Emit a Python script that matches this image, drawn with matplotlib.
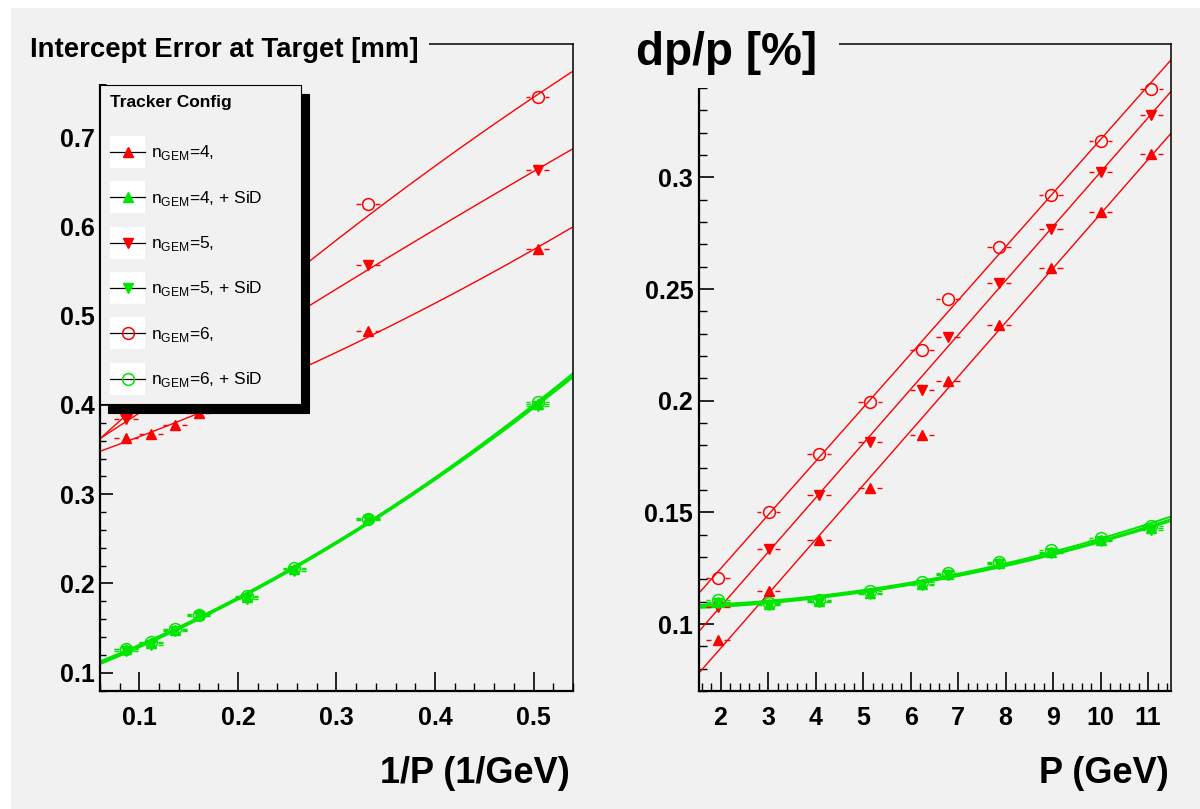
import numpy as np
import matplotlib
matplotlib.use("Agg")
import matplotlib.pyplot as plt
from matplotlib.lines import Line2D
from matplotlib.patches import Rectangle
from matplotlib.legend_handler import HandlerBase
from matplotlib.ticker import FixedLocator, MultipleLocator

plt.rcParams['font.family'] = ['Liberation Sans', 'DejaVu Sans']

# ---- left panel: intercept error vs 1/P ----
inv_p = [0.0864, 0.1117, 0.136, 0.160, 0.2088, 0.2573, 0.332, 0.504]
icpt_n4 = [0.363, 0.368, 0.378, 0.391, 0.410, 0.434, 0.483, 0.575]
icpt_n5 = [0.384, 0.399, 0.416, 0.432, 0.466, 0.498, 0.557, 0.663]
icpt_n6 = [0.392, 0.414, 0.436, 0.457, 0.499, 0.540, 0.625, 0.745]
icpt_n4_sid = [0.126, 0.133, 0.148, 0.166, 0.185, 0.216, 0.273, 0.401]
icpt_n5_sid = [0.124, 0.131, 0.147, 0.164, 0.183, 0.214, 0.271, 0.399]
icpt_n6_sid = [0.127, 0.134, 0.149, 0.165, 0.186, 0.217, 0.272, 0.403]

# ---- right panel: dp/p vs P ----
p_gev = [1.94, 3.01, 4.08, 5.15, 6.24, 6.78, 7.86, 8.95, 10.0, 11.07]
dpp_n4 = [0.0928, 0.1149, 0.1376, 0.1607, 0.1846, 0.2087, 0.2337, 0.2595, 0.2845, 0.3107]
dpp_n5 = [0.1077, 0.1336, 0.1580, 0.1813, 0.2050, 0.2286, 0.2528, 0.2771, 0.3025, 0.3282]
dpp_n6 = [0.1204, 0.1500, 0.1760, 0.1995, 0.2226, 0.2455, 0.2688, 0.2923, 0.3162, 0.3398]
dpp_n4_sid = [0.1100, 0.1090, 0.1103, 0.1140, 0.1180, 0.1224, 0.1272, 0.1324, 0.1376, 0.1428]
dpp_n5_sid = [0.1095, 0.1085, 0.1100, 0.1135, 0.1176, 0.1218, 0.1268, 0.1318, 0.1370, 0.1420]
dpp_n6_sid = [0.1108, 0.1094, 0.1108, 0.1146, 0.1186, 0.1230, 0.1280, 0.1330, 0.1384, 0.1440]

left_xerr = 0.012
right_xerr = 0.25

labels = [r'n$_{\mathregular{GEM}}$=4,', r'n$_{\mathregular{GEM}}$=4, + SiD',
          r'n$_{\mathregular{GEM}}$=5,', r'n$_{\mathregular{GEM}}$=5, + SiD',
          r'n$_{\mathregular{GEM}}$=6,', r'n$_{\mathregular{GEM}}$=6, + SiD']

left_xticks = [0.1, 0.2, 0.3, 0.4, 0.5]
left_yticks = [0.1, 0.2, 0.3, 0.4, 0.5, 0.6, 0.7]
right_xticks = [2, 3, 4, 5, 6, 7, 8, 9, 10, 11]
right_yticks = [0.1, 0.15, 0.2, 0.25, 0.3]

RED = '#ff0000'
GREEN = '#00e600'
PAD = '#f1f1f1'

W, H = 1200, 809
fig = plt.figure(figsize=(12, 8.09), dpi=100, facecolor='white')
# pad background (ROOT canvas look)
fig.add_artist(Rectangle((11 / W, 0), 1, 1 - 8 / H, transform=fig.transFigure,
                         facecolor=PAD, edgecolor='none', zorder=-5))

ax1 = fig.add_axes([100 / W, 1 - 691 / H, 473 / W, (691 - 43.5) / H])
ax2 = fig.add_axes([698.7 / W, 1 - 691 / H, 472.7 / W, (691 - 43.5) / H])


def draw_series(ax, x, y, color, marker, ms, xerr, gap, deg, lw):
    x = np.asarray(x)
    y = np.asarray(y)
    lo, hi = ax.get_xlim()
    xs = np.linspace(lo, hi, 300)
    coef = np.polyfit(x, y, deg)
    ax.plot(xs, np.polyval(coef, xs), color=color, lw=lw, zorder=2)
    # ROOT style x error bars with a gap around the marker
    ax.hlines(y, x - xerr, x - gap, color=color, lw=1.0, zorder=3)
    ax.hlines(y, x + gap, x + xerr, color=color, lw=1.0, zorder=3)
    if marker == 'o':
        ax.plot(x, y, ls='none', marker='o', ms=ms, mfc='none', mec=color, mew=1.1, zorder=4)
    else:
        ax.plot(x, y, ls='none', marker=marker, ms=ms, mfc=color, mec=color, zorder=4)


for ax in (ax1, ax2):
    ax.set_facecolor(PAD)

ax1.set_xlim(0.06, 0.54)
ax1.set_ylim(0.0795, 0.805)
ax2.set_xlim(1.54, 11.49)
ax2.set_ylim(0.070, 0.360)

# left panel
draw_series(ax1, inv_p, icpt_n4, RED, '^', 7.5, left_xerr, 0.0068, 2, 1.0)
draw_series(ax1, inv_p, icpt_n5, RED, 'v', 7.5, left_xerr, 0.0068, 2, 1.0)
draw_series(ax1, inv_p, icpt_n6, RED, 'o', 8.5, left_xerr, 0.0075, 2, 1.0)
draw_series(ax1, inv_p, icpt_n4_sid, GREEN, '^', 7.5, left_xerr, 0.0068, 2, 1.4)
draw_series(ax1, inv_p, icpt_n5_sid, GREEN, 'v', 7.5, left_xerr, 0.0068, 2, 1.4)
draw_series(ax1, inv_p, icpt_n6_sid, GREEN, 'o', 8.5, left_xerr, 0.0075, 2, 1.4)

# right panel
draw_series(ax2, p_gev, dpp_n4, RED, '^', 7.5, right_xerr, 0.14, 1, 1.0)
draw_series(ax2, p_gev, dpp_n5, RED, 'v', 7.5, right_xerr, 0.14, 1, 1.0)
draw_series(ax2, p_gev, dpp_n6, RED, 'o', 8.5, right_xerr, 0.155, 1, 1.0)
draw_series(ax2, p_gev, dpp_n4_sid, GREEN, '^', 7.5, right_xerr, 0.14, 2, 1.4)
draw_series(ax2, p_gev, dpp_n5_sid, GREEN, 'v', 7.5, right_xerr, 0.14, 2, 1.4)
draw_series(ax2, p_gev, dpp_n6_sid, GREEN, 'o', 8.5, right_xerr, 0.155, 2, 1.4)

# axes styling
ax1.xaxis.set_major_locator(FixedLocator(left_xticks))
ax1.yaxis.set_major_locator(FixedLocator(left_yticks))
ax1.xaxis.set_minor_locator(MultipleLocator(0.02))
ax1.yaxis.set_minor_locator(MultipleLocator(0.02))
ax1.set_xticklabels([f'{v:g}' for v in left_xticks])
ax1.set_yticklabels([f'{v:g}' for v in left_yticks])

ax2.xaxis.set_major_locator(FixedLocator(right_xticks))
ax2.yaxis.set_major_locator(FixedLocator(right_yticks))
ax2.xaxis.set_minor_locator(MultipleLocator(0.2))
ax2.yaxis.set_minor_locator(MultipleLocator(0.01))
ax2.set_xticklabels([f'{v:g}' for v in right_xticks])
ax2.set_yticklabels([f'{v:g}' for v in right_yticks])

for ax, ylen in ((ax1, 9), (ax2, 11)):
    ax.tick_params(which='both', direction='in', top=False, right=False, labelsize=18)
    ax.tick_params(axis='x', which='major', length=13.5, width=1.2, pad=11)
    ax.tick_params(axis='x', which='minor', length=6, width=1.0)
    ax.tick_params(axis='y', which='major', length=ylen, width=1.2, pad=4)
    ax.tick_params(axis='y', which='minor', length=ylen / 2, width=1.0)
    for lbl in ax.get_xticklabels() + ax.get_yticklabels():
        lbl.set_fontweight('bold')
    ax.spines['left'].set_linewidth(1.6)
    ax.spines['bottom'].set_linewidth(1.6)
    ax.spines['top'].set_linewidth(1.1)
    ax.spines['right'].set_linewidth(1.1)


# legend with white boxes behind the marker samples
class BoxHandler(HandlerBase):
    def create_artists(self, legend, orig_handle, xdescent, ydescent, width,
                       height, fontsize, trans):
        box = Rectangle((-xdescent, -ydescent), width, height, facecolor='white',
                        edgecolor='none', transform=trans)
        yc = -ydescent + height / 2
        line = Line2D([-xdescent, -xdescent + width], [yc, yc], color='black',
                      lw=0.9, transform=trans)
        mk = Line2D([-xdescent + width / 2], [yc], ls='none',
                    marker=orig_handle.get_marker(),
                    ms=orig_handle.get_markersize(),
                    mfc=orig_handle.get_markerfacecolor(),
                    mec=orig_handle.get_markeredgecolor(),
                    mew=orig_handle.get_markeredgewidth(), transform=trans)
        return [box, line, mk]


handles = [
    Line2D([], [], marker='^', ms=7.5, mfc=RED, mec=RED),
    Line2D([], [], marker='^', ms=7.5, mfc=GREEN, mec=GREEN),
    Line2D([], [], marker='v', ms=7.5, mfc=RED, mec=RED),
    Line2D([], [], marker='v', ms=7.5, mfc=GREEN, mec=GREEN),
    Line2D([], [], marker='o', ms=8.5, mfc='none', mec=RED, mew=1.1),
    Line2D([], [], marker='o', ms=8.5, mfc='none', mec=GREEN, mew=1.1),
]
leg_top = (691 - 85) / (691 - 43.5)
leg = ax1.legend(handles, labels, loc='upper left',
                 bbox_to_anchor=(0, 0.2, 201 / 473, leg_top - 0.2), mode='expand',
                 borderaxespad=0, prop={'size': 12.5},
                 title='Tracker Config',
                 title_fontproperties={'size': 12.5, 'weight': 'bold'},
                 alignment='left', handler_map={Line2D: BoxHandler()},
                 handlelength=2.07, handleheight=2.46, labelspacing=0.77,
                 handletextpad=0.32, borderpad=0.55, fancybox=False,
                 framealpha=1, facecolor=PAD, edgecolor='black',
                 shadow={'ox': 6, 'oy': -6.5, 'color': 'black', 'alpha': 1})
leg.get_frame().set_linewidth(0.8)
leg._legend_box.sep = 19  # more room between header and first entry

# title boxes covering the top-left part of each frame (ROOT style)
fig.add_artist(Rectangle((11 / W, 1 - 84 / H), (429 - 11) / W, (84 - 8) / H,
                         transform=fig.transFigure, facecolor=PAD, edgecolor='none', zorder=5))
fig.add_artist(Rectangle((605 / W, 1 - 88 / H), (839 - 605) / W, (88 - 8) / H,
                         transform=fig.transFigure, facecolor=PAD, edgecolor='none', zorder=5))

fig.text(30 / W, 1 - 57 / H, 'Intercept Error at Target [mm]', fontsize=19.8,
         fontweight='bold', ha='left', va='baseline', zorder=6)
fig.text(636 / W, 1 - 65 / H, 'dp/p [%]', fontsize=33, fontweight='bold',
         ha='left', va='baseline', zorder=6)

fig.text(570 / W, 1 - 783 / H, '1/P (1/GeV)', fontsize=26, fontweight='bold',
         ha='right', va='baseline')
fig.text(1169 / W, 1 - 783 / H, 'P (GeV)', fontsize=26, fontweight='bold',
         ha='right', va='baseline')

fig.savefig('out.png', dpi=100, facecolor=fig.get_facecolor())
